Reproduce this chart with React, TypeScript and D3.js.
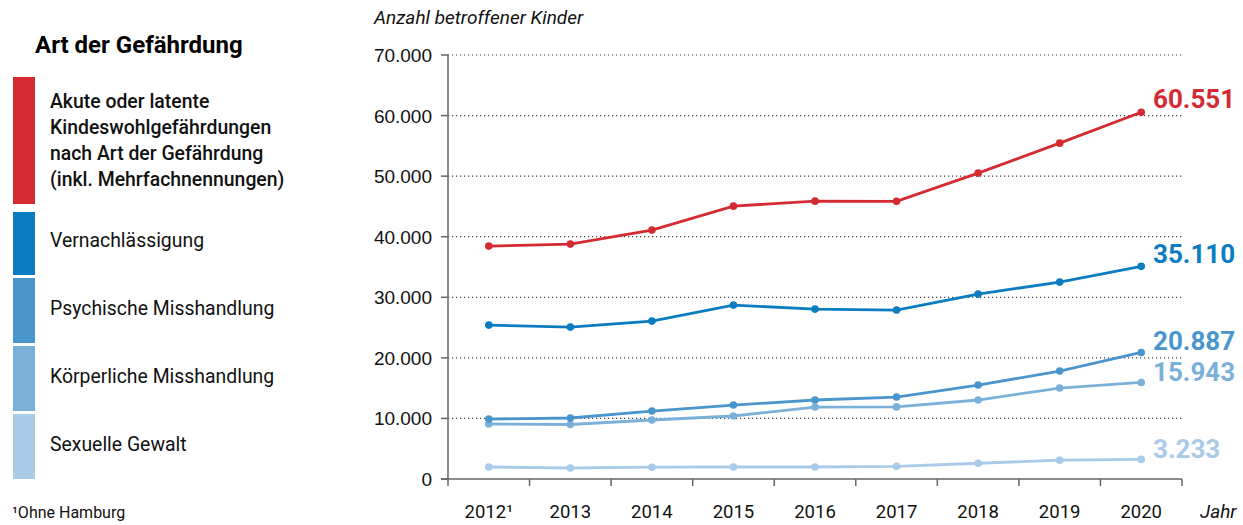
import React, { useEffect, useRef } from 'react';
import * as d3 from 'd3';

const years = ['2012', '2013', '2014', '2015', '2016', '2017', '2018', '2019', '2020'];
const yearLabels = ['2012¹', '2013', '2014', '2015', '2016', '2017', '2018', '2019', '2020'];
const yTicks = [0, 10000, 20000, 30000, 40000, 50000, 60000, 70000];

const gesamt = [38450, 38780, 41090, 45050, 45870, 45850, 50500, 55450, 60551];
const vernachlaessigung = [25410, 25080, 26070, 28710, 28050, 27890, 30530, 32510, 35110];
const psychisch = [9900, 10070, 11220, 12210, 13040, 13530, 15510, 17820, 20887];
const koerperlich = [9080, 9000, 9740, 10400, 11880, 11900, 13040, 15020, 15943];
const sexuell = [1980, 1820, 1950, 1980, 1980, 2100, 2600, 3100, 3233];

const seriesNames = [
  ['Akute oder latente', 'Kindeswohlgefährdungen', 'nach Art der Gefährdung', '(inkl. Mehrfachnennungen)'],
  ['Vernachlässigung'],
  ['Psychische Misshandlung'],
  ['Körperliche Misshandlung'],
  ['Sexuelle Gewalt'],
];
const colors = ['#d42a32', '#0a7cbf', '#4a96cc', '#7bb0d9', '#a9cbe7'];
const allSeries = [gesamt, vernachlaessigung, psychisch, koerperlich, sexuell];
const endLabels = ['60.551', '35.110', '20.887', '15.943', '3.233'];

const FONT = 'Roboto, "Noto Sans", sans-serif';

const App = () => {
  const svgRef = useRef<SVGSVGElement>(null);

  useEffect(() => {
    const width = 1243;
    const height = 525;
    const svg = d3.select(svgRef.current);
    svg.selectAll('*').remove();
    svg.attr('width', width).attr('height', height);

    const x = d3.scaleBand().domain(years).range([448, 1182]);
    const y = d3.scaleLinear().domain([0, 70000]).range([479, 55]);
    const cx = (i: number) => (x(years[i]) as number) + x.bandwidth() / 2;

    // legend
    svg.append('text')
      .attr('x', 35).attr('y', 53)
      .style('font-family', FONT).style('font-weight', 700).style('font-size', '24px')
      .text('Art der Gefährdung');

    const swatches = [[77, 204], [212, 275], [278, 343], [346, 411], [414, 479]];
    const baselines = [[108, 134, 160, 186], [247], [315], [383], [451]];
    swatches.forEach((s, i) => {
      svg.append('rect')
        .attr('x', 13).attr('y', s[0])
        .attr('width', 22).attr('height', s[1] - s[0])
        .attr('fill', colors[i]);
      seriesNames[i].forEach((line, j) => {
        svg.append('text')
          .attr('x', 50).attr('y', baselines[i][j])
          .style('font-family', FONT)
          .style('font-weight', i === 0 ? 500 : 400)
          .style('font-size', '19.4px')
          .attr('fill', '#111')
          .text(line);
      });
    });

    svg.append('text')
      .attr('x', 12).attr('y', 518)
      .style('font-family', FONT).style('font-size', '16px').attr('fill', '#111')
      .text('¹Ohne Hamburg');

    // axis title
    svg.append('text')
      .attr('x', 374).attr('y', 24)
      .style('font-family', FONT).style('font-style', 'italic').style('font-size', '19px')
      .attr('fill', '#111')
      .text('Anzahl betroffener Kinder');

    // grid
    svg.append('g').selectAll('line')
      .data(yTicks.filter(t => t > 0))
      .enter().append('line')
      .attr('x1', 448).attr('x2', 1182)
      .attr('y1', d => y(d)).attr('y2', d => y(d))
      .attr('stroke', '#444').attr('stroke-width', 1.2)
      .attr('stroke-dasharray', '1.2,2.8');

    // y axis
    svg.append('line')
      .attr('x1', 448).attr('x2', 448).attr('y1', y(70000)).attr('y2', y(0))
      .attr('stroke', '#666').attr('stroke-width', 1.5);
    svg.append('g').selectAll('line')
      .data(yTicks)
      .enter().append('line')
      .attr('x1', 441).attr('x2', 448)
      .attr('y1', d => y(d)).attr('y2', d => y(d))
      .attr('stroke', '#666').attr('stroke-width', 1.5);
    svg.append('g').selectAll('text')
      .data(yTicks)
      .enter().append('text')
      .attr('x', 432).attr('y', d => y(d) + 7)
      .attr('text-anchor', 'end')
      .style('font-family', '"Liberation Sans", Arial, sans-serif').style('font-size', '19px')
      .attr('fill', '#111')
      .text(d => d === 0 ? '0' : d3.format(',')(d).replace(/,/g, '.'));

    // x axis
    svg.append('line')
      .attr('x1', 441).attr('x2', 1182).attr('y1', y(0)).attr('y2', y(0))
      .attr('stroke', '#666').attr('stroke-width', 1.5);
    const bounds = years.map(yr => x(yr) as number).concat([1182]);
    svg.append('g').selectAll('line')
      .data(bounds)
      .enter().append('line')
      .attr('x1', d => d).attr('x2', d => d)
      .attr('y1', y(0)).attr('y2', y(0) + 7)
      .attr('stroke', '#666').attr('stroke-width', 1.5);
    svg.append('g').selectAll('text')
      .data(yearLabels)
      .enter().append('text')
      .attr('x', (d, i) => cx(i)).attr('y', 518)
      .attr('text-anchor', 'middle')
      .style('font-family', FONT).style('font-size', '18.5px')
      .attr('fill', '#111')
      .text(d => d);
    svg.append('text')
      .attr('x', 1200).attr('y', 518)
      .style('font-family', FONT).style('font-style', 'italic').style('font-size', '19px')
      .attr('fill', '#111')
      .text('Jahr');

    // lines
    const line = d3.line<number>()
      .x((d, i) => cx(i))
      .y(d => y(d));

    [...allSeries].reverse().forEach((vals, ri) => {
      const i = allSeries.length - 1 - ri;
      svg.append('path')
        .datum(vals)
        .attr('d', line)
        .attr('fill', 'none')
        .attr('stroke', colors[i])
        .attr('stroke-width', 2.8);
      svg.append('g').selectAll('circle')
        .data(vals)
        .enter().append('circle')
        .attr('cx', (d, j) => cx(j)).attr('cy', d => y(d))
        .attr('r', 3.8)
        .attr('fill', colors[i]);
    });

    // end labels
    const endY = [108, 263, 350, 381, 458];
    endLabels.forEach((lab, i) => {
      svg.append('text')
        .attr('x', 1153).attr('y', endY[i])
        .style('font-family', FONT).style('font-weight', 700).style('font-size', '26px')
        .attr('fill', colors[i])
        .text(lab);
    });
  }, []);

  return <svg ref={svgRef} style={{ position: 'absolute', left: 0, top: 0 }}></svg>;
};

export default App;
